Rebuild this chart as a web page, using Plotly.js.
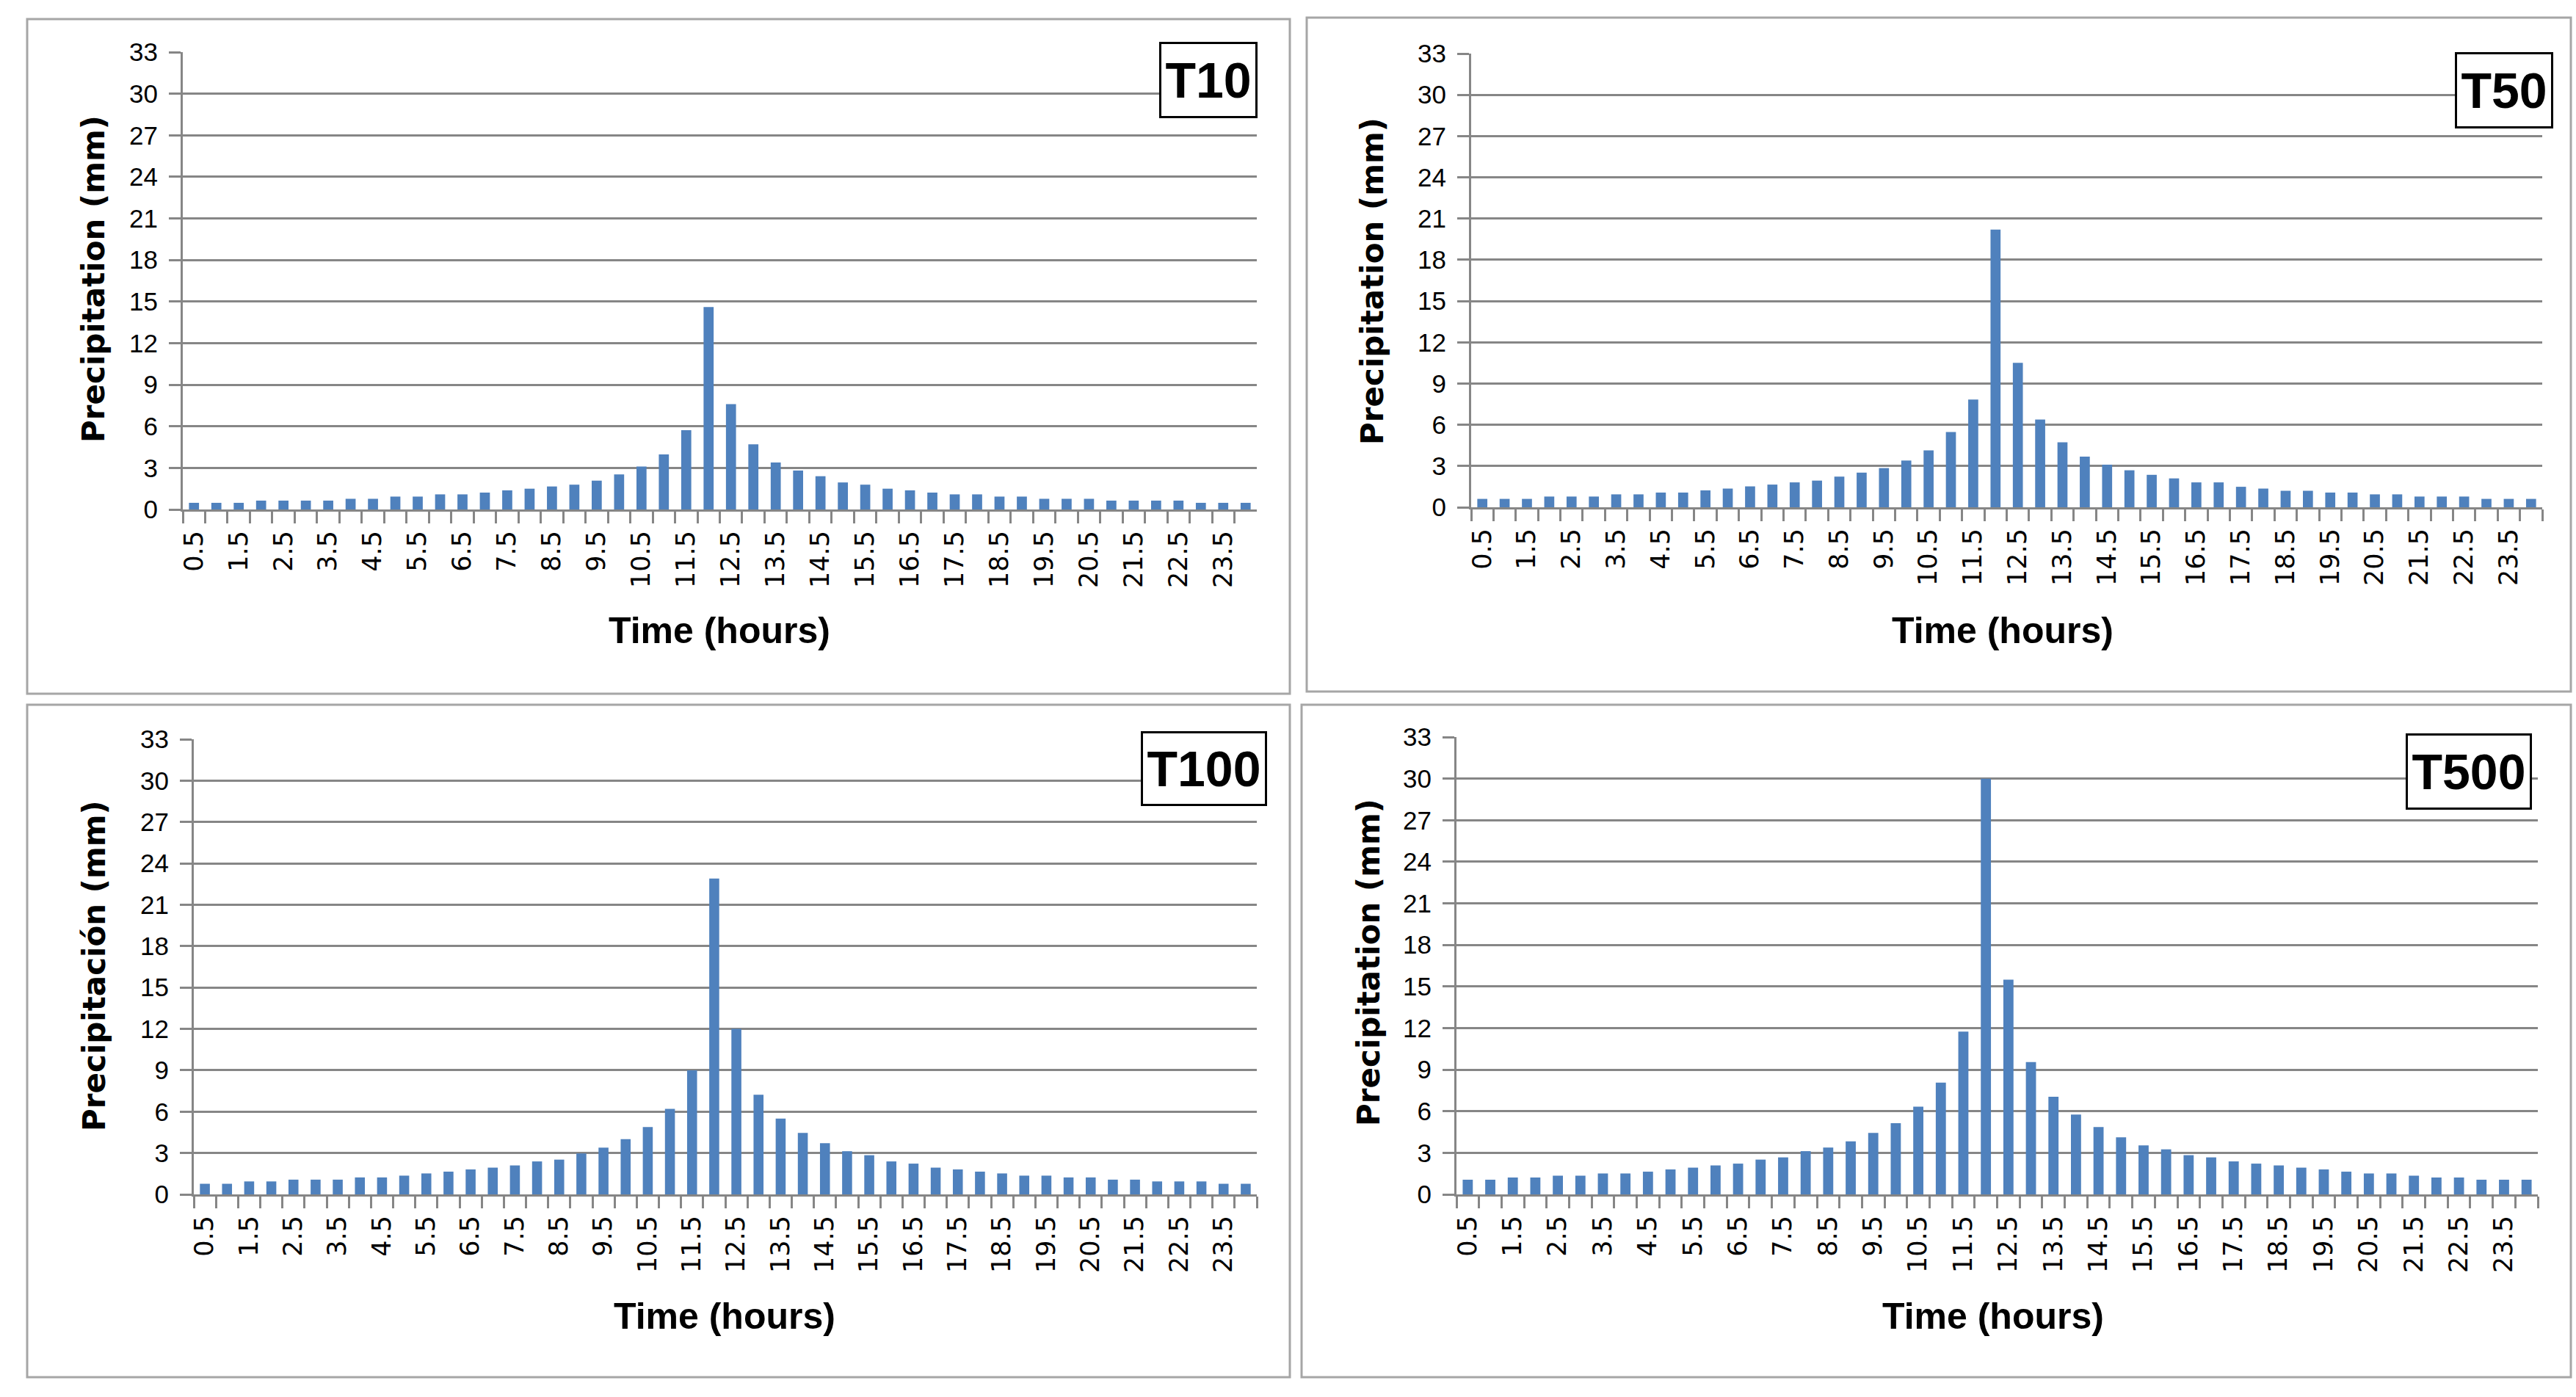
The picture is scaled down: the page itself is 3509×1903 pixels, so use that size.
<!DOCTYPE html>
<html>
<head>
<meta charset="utf-8">
<script src="https://cdn.plot.ly/plotly-3.0.1.min.js"></script>
<style>
html,body{margin:0;padding:0;background:#fff;}
#chart{width:3509px;height:1903px;}
</style>
</head>
<body>
<div id="chart"></div>
<script>
const categories = ["0.5","1","1.5","2","2.5","3","3.5","4","4.5","5","5.5","6","6.5","7","7.5","8","8.5","9","9.5","10","10.5","11","11.5","12",
  "12.5","13","13.5","14","14.5","15","15.5","16","16.5","17","17.5","18","18.5","19","19.5","20","20.5","21","21.5","22","22.5","23","23.5","24"];

const t10 = [0.48,0.48,0.48,0.64,0.64,0.64,0.64,0.77,0.77,0.93,0.93,1.09,1.09,1.22,1.38,1.50,1.66,1.79,2.08,2.53,3.10,3.97,5.72,14.6,
  7.6,4.7,3.39,2.81,2.40,1.95,1.79,1.50,1.38,1.22,1.09,1.09,0.93,0.93,0.77,0.77,0.77,0.64,0.64,0.64,0.64,0.48,0.48,0.48];

const t50 = [0.61,0.61,0.61,0.78,0.78,0.78,0.94,0.94,1.07,1.07,1.23,1.36,1.52,1.65,1.81,1.94,2.23,2.52,2.85,3.40,4.14,5.47,7.83,20.2,
  10.5,6.38,4.72,3.69,3.10,2.69,2.36,2.10,1.81,1.81,1.49,1.36,1.20,1.20,1.07,1.07,0.94,0.94,0.78,0.78,0.78,0.61,0.61,0.61];

const t100 = [0.77,0.77,0.94,0.94,1.07,1.07,1.07,1.23,1.23,1.36,1.52,1.65,1.81,1.94,2.10,2.39,2.52,2.97,3.39,4.00,4.88,6.20,9.00,22.9,
  12.0,7.23,5.49,4.46,3.71,3.13,2.84,2.39,2.23,1.94,1.81,1.65,1.52,1.36,1.36,1.23,1.23,1.07,1.07,0.94,0.94,0.94,0.77,0.77];

const t500 = [1.06,1.06,1.22,1.22,1.35,1.35,1.51,1.51,1.64,1.80,1.93,2.09,2.22,2.51,2.67,3.12,3.38,3.83,4.44,5.14,6.33,8.07,11.74,30.0,
  15.5,9.55,7.04,5.76,4.86,4.12,3.54,3.25,2.83,2.67,2.38,2.22,2.09,1.93,1.80,1.64,1.51,1.51,1.35,1.22,1.22,1.06,1.06,1.06];

const panelNames = ["T10","T50","T100","T500"];
const yTitles = ["Precipitation (mm)","Precipitation (mm)","Precipitación (mm)","Precipitation (mm)"];
const xTitle = "Time (hours)";
const yTickVals = [0,3,6,9,12,15,18,21,24,27,30,33];
const series = [t10, t50, t100, t500];

const W = 3509, H = 1903;
const px = v => v / W;
const py = v => 1 - v / H;

// plot areas in pixels [left, right, top, bottom]
const areas = [
  [249, 1712, 71, 694],
  [2004, 3463, 73, 691],
  [264, 1712, 1007, 1627],
  [1984, 3457, 1004, 1627]
];
// panel frames [x0,y0,x1,y1]
const frames = [
  [37, 26, 1757, 945],
  [1780, 24, 3502, 942],
  [37, 960, 1757, 1876],
  [1773, 960, 3502, 1876]
];
// label boxes [right, top, width, height]
const boxes = [
  [1713, 57, 128, 98],
  [3478, 71, 128, 98],
  [1726, 996, 166, 96],
  [3449, 999, 166, 98]
];
// axis title centres
const yTitlePos = [[128, 380], [1869, 383], [128, 1316], [1864, 1311]];
const xTitlePos = [[980, 859], [2728, 859], [987, 1793], [2715, 1793]];

const tickText = categories.map((c, i) => (i % 2 === 0 ? c : ""));

const grey = "#868686";
const narrow = "Liberation Sans Narrow, Arial Narrow, sans-serif";
const wide = "DejaVu Sans, Verdana, sans-serif";

const data = [];
const layout = {
  width: W, height: H,
  margin: {l: 0, r: 0, t: 0, b: 0},
  paper_bgcolor: "#fff",
  plot_bgcolor: "#fff",
  showlegend: false,
  bargap: 0.55,
  shapes: [],
  annotations: []
};

series.forEach((vals, i) => {
  const n = i + 1;
  const xa = n === 1 ? "x" : "x" + n;
  const ya = n === 1 ? "y" : "y" + n;
  data.push({
    type: "bar",
    x: categories,
    y: vals,
    xaxis: xa, yaxis: ya,
    marker: {color: "#4F81BD"},
    hoverinfo: "x+y"
  });
  const a = areas[i];
  layout["xaxis" + (n === 1 ? "" : n)] = {
    domain: [px(a[0]), px(a[1])],
    anchor: ya,
    type: "category",
    range: [-0.5, categories.length - 0.5],
    tickmode: "array",
    tickvals: categories,
    ticktext: tickText,
    tickson: "boundaries",
    ticks: "outside",
    ticklen: 16,
    tickwidth: 3,
    tickcolor: grey,
    tickangle: -90,
    ticklabelstandoff: 12,
    tickfont: {family: wide, size: 35, color: "#000"},
    showline: true,
    linecolor: grey,
    linewidth: 3,
    showgrid: false,
    zeroline: false,
    fixedrange: true
  };
  layout["yaxis" + (n === 1 ? "" : n)] = {
    domain: [py(a[3]), py(a[2])],
    anchor: xa,
    range: [0, 33],
    tickmode: "array",
    tickvals: yTickVals,
    ticks: "outside",
    ticklen: 16,
    tickwidth: 3,
    tickcolor: grey,
    ticklabelstandoff: 8,
    tickfont: {family: narrow, size: 35, color: "#000"},
    showline: true,
    linecolor: grey,
    linewidth: 3,
    showgrid: true,
    gridcolor: grey,
    gridwidth: 3,
    zeroline: false,
    fixedrange: true
  };
  const f = frames[i];
  layout.shapes.push({
    type: "rect", xref: "paper", yref: "paper",
    x0: px(f[0]), x1: px(f[2]), y0: py(f[3]), y1: py(f[1]),
    line: {color: "#a6a6a6", width: 3},
    fillcolor: "rgba(0,0,0,0)"
  });
  const b = boxes[i];
  layout.annotations.push({
    xref: "paper", yref: "paper",
    x: px(b[0]), y: py(b[1]),
    xanchor: "right", yanchor: "top",
    text: "<b>" + panelNames[i] + "</b>",
    showarrow: false,
    width: b[2], height: b[3],
    align: "center", valign: "middle",
    bgcolor: "#fff",
    bordercolor: "#000",
    borderwidth: 3,
    borderpad: 0,
    font: {family: narrow, size: 68, color: "#000"}
  });
  const yt = yTitlePos[i];
  layout.annotations.push({
    xref: "paper", yref: "paper",
    x: px(yt[0]), y: py(yt[1]),
    xanchor: "center", yanchor: "middle",
    text: "<b>" + yTitles[i] + "</b>",
    textangle: -90,
    showarrow: false,
    font: {family: wide, size: 42, color: "#000"}
  });
  const xt = xTitlePos[i];
  layout.annotations.push({
    xref: "paper", yref: "paper",
    x: px(xt[0]), y: py(xt[1]),
    xanchor: "center", yanchor: "middle",
    text: "<b>" + xTitle + "</b>",
    showarrow: false,
    font: {family: narrow, size: 50, color: "#000"}
  });
});

Plotly.newPlot("chart", data, layout, {displayModeBar: false, staticPlot: true});
</script>
</body>
</html>
